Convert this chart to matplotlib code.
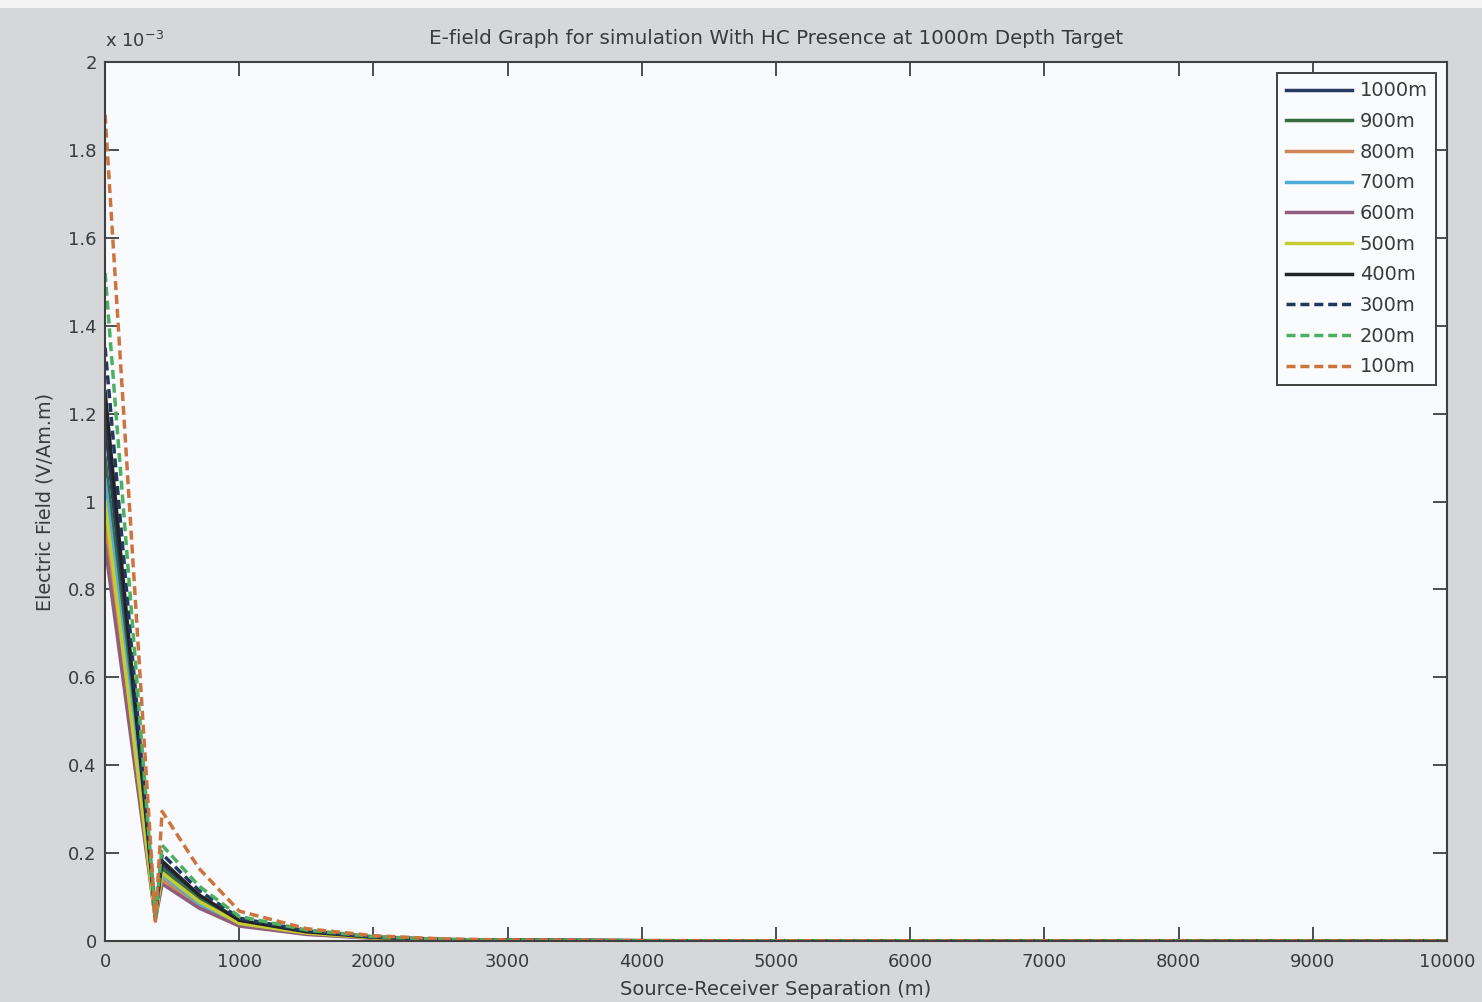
import matplotlib
matplotlib.use("Agg")
import matplotlib.pyplot as plt
import numpy as np

# Source-receiver separation (m) at which the field was sampled
separation = [0, 375, 425, 700, 1000, 1500, 2000, 2500, 3000, 4000, 5000,
              6000, 7000, 8000, 9000, 10000]

# Electric field amplitude (x 1e-3 V/Am.m) for each water depth
field_1000m = [1.18, 0.060, 0.175, 0.100, 0.045, 0.020, 0.008, 0.003, 0.0015, 0.0006, 0.0003, 0.0002, 0.0001, 0.0001, 0.0001, 0.0001]
field_900m = [1.10, 0.055, 0.165, 0.095, 0.042, 0.019, 0.0075, 0.0028, 0.0014, 0.0006, 0.0003, 0.0002, 0.0001, 0.0001, 0.0001, 0.0001]
field_800m = [0.95, 0.050, 0.140, 0.080, 0.036, 0.016, 0.0065, 0.0025, 0.0012, 0.0005, 0.0003, 0.0002, 0.0001, 0.0001, 0.0001, 0.0001]
field_700m = [1.05, 0.055, 0.150, 0.085, 0.038, 0.017, 0.007, 0.0026, 0.0013, 0.0005, 0.0003, 0.0002, 0.0001, 0.0001, 0.0001, 0.0001]
field_600m = [0.90, 0.050, 0.130, 0.075, 0.034, 0.015, 0.006, 0.0023, 0.0011, 0.0005, 0.0003, 0.0002, 0.0001, 0.0001, 0.0001, 0.0001]
field_500m = [1.00, 0.050, 0.155, 0.090, 0.040, 0.018, 0.007, 0.0027, 0.0013, 0.0005, 0.0003, 0.0002, 0.0001, 0.0001, 0.0001, 0.0001]
field_400m = [1.25, 0.060, 0.182, 0.105, 0.047, 0.021, 0.0085, 0.0032, 0.0016, 0.0006, 0.0003, 0.0002, 0.0001, 0.0001, 0.0001, 0.0001]
field_300m = [1.35, 0.055, 0.198, 0.115, 0.052, 0.023, 0.009, 0.0035, 0.0017, 0.0007, 0.0004, 0.0002, 0.0001, 0.0001, 0.0001, 0.0001]
field_200m = [1.52, 0.050, 0.218, 0.125, 0.056, 0.025, 0.010, 0.0038, 0.0018, 0.0007, 0.0004, 0.0002, 0.0001, 0.0001, 0.0001, 0.0001]
field_100m = [1.88, 0.045, 0.295, 0.165, 0.068, 0.028, 0.012, 0.005, 0.0022, 0.0009, 0.0005, 0.0003, 0.0002, 0.0001, 0.0001, 0.0001]

series_labels = ["1000m", "900m", "800m", "700m", "600m", "500m", "400m",
                 "300m", "200m", "100m"]
series_values = [field_1000m, field_900m, field_800m, field_700m, field_600m,
                 field_500m, field_400m, field_300m, field_200m, field_100m]
series_colors = ["#283a62", "#356c42", "#d08656", "#52acd8", "#8e5e7c",
                 "#c8cc34", "#232323", "#22385f", "#4cb060", "#cc743e"]
series_styles = ["-", "-", "-", "-", "-", "-", "-", "--", "--", "--"]

y_ticks = [0, 0.2, 0.4, 0.6, 0.8, 1.0, 1.2, 1.4, 1.6, 1.8, 2.0]
y_tick_labels = ["0", "0.2", "0.4", "0.6", "0.8", "1", "1.2", "1.4", "1.6",
                 "1.8", "2"]
x_ticks = [0, 1000, 2000, 3000, 4000, 5000, 6000, 7000, 8000, 9000, 10000]

plt.rcParams["font.family"] = ["DejaVu Sans"]
text_color = "#3a3a3a"

fig = plt.figure(figsize=(14.82, 10.02), dpi=100, facecolor="#d6d7d9")
fig.patches.append(plt.Rectangle((0, 0.992), 1, 0.008, transform=fig.transFigure,
                                 facecolor="#f4f4f4", edgecolor="none", zorder=0))
ax = fig.add_axes([0.0709, 0.0609, 0.9055, 0.8772], facecolor="#f8fafd")

for vals, lab, col, ls in zip(series_values, series_labels, series_colors, series_styles):
    ax.plot(separation, np.array(vals) * 1e-3, ls, color=col, lw=2.5,
            label=lab, dashes=(2.6, 1.4) if ls == "--" else (None, None))

ax.set_xlim(0, 10000)
ax.set_ylim(0, 2e-3)
ax.set_xticks(x_ticks)
ax.set_xticklabels([str(t) for t in x_ticks])
ax.set_yticks(np.array(y_ticks) * 1e-3)
ax.set_yticklabels(y_tick_labels)

ax.tick_params(direction="in", top=True, right=True, length=10, width=1.3,
               color="#404040", labelsize=13, labelcolor=text_color)
ax.tick_params(axis="x", pad=9)
ax.tick_params(axis="y", pad=6)
for sp in ax.spines.values():
    sp.set_color("#404040")
    sp.set_linewidth(1.5)

ax.text(0.0, 1.012, r"x 10$^{-3}$", transform=ax.transAxes, fontsize=13,
        color=text_color, ha="left", va="bottom")

ax.set_title("E-field Graph for simulation With HC Presence at 1000m Depth Target",
             fontsize=14.3, color=text_color, pad=13)
ax.set_xlabel("Source-Receiver Separation (m)", fontsize=14, color=text_color,
              labelpad=6)
ax.set_ylabel("Electric Field (V/Am.m)", fontsize=13.8, color=text_color,
              labelpad=10)

leg = ax.legend(loc="upper right", fontsize=14, frameon=True, fancybox=False,
                edgecolor="#404040", facecolor="#fafbfd", framealpha=1,
                handlelength=3.4, handletextpad=0.4, labelspacing=0.6,
                borderpad=0.45, borderaxespad=0.55)
leg.get_frame().set_linewidth(1.4)
for t in leg.get_texts():
    t.set_color(text_color)

fig.savefig("out.png", dpi=100, facecolor=fig.get_facecolor())
